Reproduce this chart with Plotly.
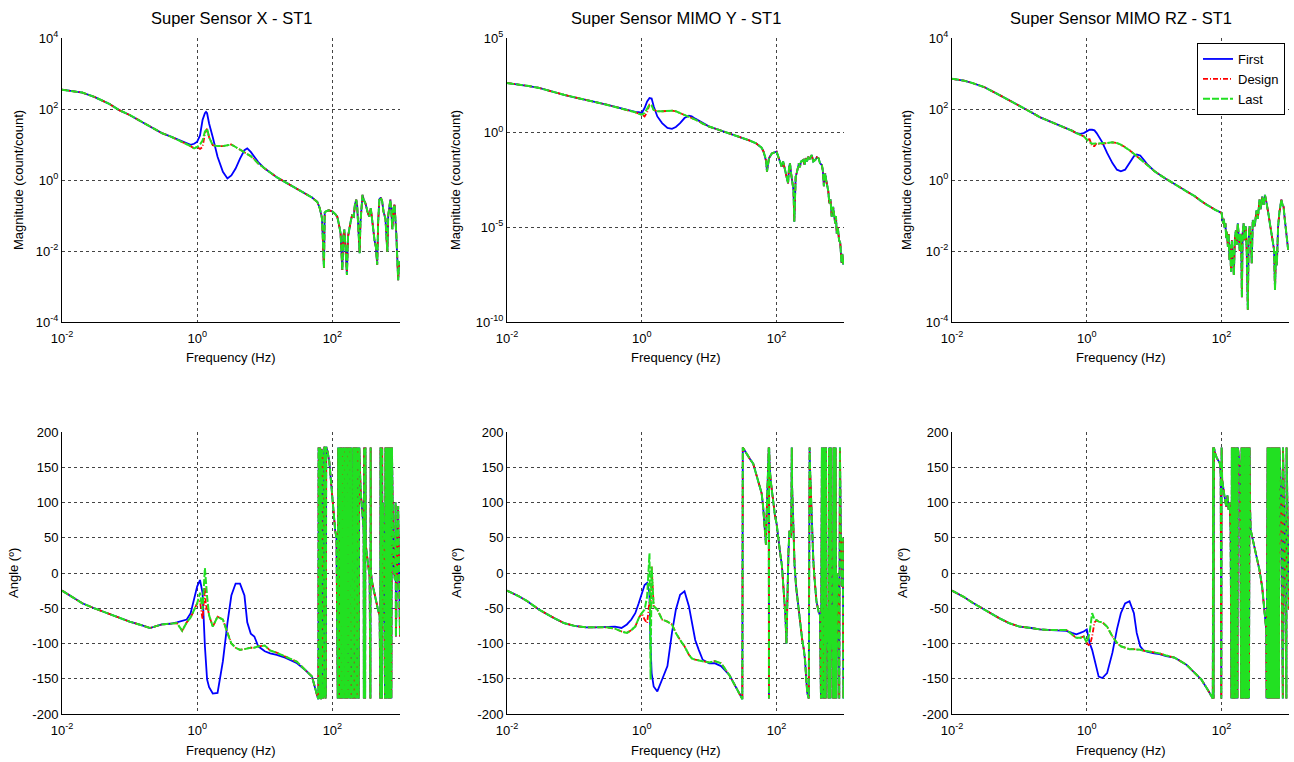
import plotly.graph_objects as go

# ---------------- DATA ----------------
# ---- Super Sensor X - ST1 ----
f_x = [0.01, 0.015, 0.02, 0.03, 0.05, 0.07, 0.1, 0.15, 0.2, 0.3, 0.4, 0.5, 0.6, 0.7, 0.8, 0.9, 1.0, 1.1, 1.2, 1.3,
       1.35, 1.4, 1.5, 1.7, 2.0, 2.4, 2.8, 3.2, 3.7, 4.3, 5.0, 5.5, 6.2, 7, 8, 10, 12, 15, 20, 30, 40, 50, 60]
mag_x_first = [350, 320, 290, 220, 140, 93, 68, 44, 32, 21, 17, 14, 12, 10.5, 9.8, 10.5, 12, 18, 49, 76,
               83, 76, 39, 16, 4.5, 1.7, 1.1, 1.35, 2.1, 4, 6.9, 7.8, 6.2, 4.5, 3.2, 2.1, 1.6, 1.2, 0.87, 0.56,
               0.41, 0.32, 0.24]
mag_x_design = [350, 320, 290, 220, 140, 93, 68, 44, 32, 21, 17, 14, 12, 10, 9, 7.8, 8.5, 7.5, 8.5, 20,
                26, 28, 16, 9.5, 9, 9, 9.5, 10, 8.5, 7.2, 6.2, 5.6, 4.7, 3.8, 2.9, 2.1, 1.6, 1.2, 0.87, 0.56,
                0.41, 0.32, 0.24]
mag_x_last = [350, 320, 290, 220, 140, 93, 68, 44, 32, 21, 17, 14, 12, 10, 9, 7.8, 8.5, 10, 13, 23,
              26, 28, 16, 9.5, 9, 9, 9.5, 10, 8.5, 7.2, 6.2, 5.6, 4.7, 3.8, 2.9, 2.1, 1.6, 1.2, 0.87, 0.56,
              0.41, 0.32, 0.24]
ph_x_first = [-25, -35, -43, -50, -58, -64, -69, -74, -78, -73, -72, -70, -68, -66, -57, -38, -19, -10, -28, -104,
              -130, -151, -162, -171, -170, -125, -71, -32, -15, -15, -32, -70, -86, -90, -104, -111, -114, -116,
              -120, -128, -138, -147, -175]
ph_x_design = [-25, -35, -43, -50, -58, -64, -69, -74, -78, -73, -72, -71, -82, -70, -63, -52, -43, -40, -66, -20,
               -52, -45, -60, -76, -62, -66, -85, -100, -106, -109, -108, -107, -106, -106, -104, -103, -110, -113,
               -118, -126, -138, -147, -175]
ph_x_last = [-25, -35, -43, -50, -58, -64, -69, -74, -78, -73, -72, -71, -82, -70, -63, -52, -43, -28, -52, 7,
             -20, -33, -60, -76, -62, -66, -85, -100, -106, -109, -108, -107, -106, -106, -104, -103, -110, -113,
             -118, -126, -138, -147, -175]
f_x_hi_mag = [65, 68, 70, 72, 75, 77, 80, 88, 100, 110, 118, 125, 132, 136, 140, 145, 150, 156, 160, 164,
              170, 178, 185, 195, 207, 215, 225, 232, 240, 247, 253, 260, 270, 279, 290, 308, 330, 350, 370, 396,
              420, 440, 460, 475, 495, 520, 545, 570, 610, 630, 650, 670, 700, 720, 745, 770, 800, 830, 880, 910,
              940, 970, 1000]
mag_x_hi = [0.16, 0.11, 0.085, 0.025, 0.0033, 0.12, 0.13, 0.14, 0.13, 0.11, 0.093, 0.056, 0.032, 0.01, 0.0029,
            0.025, 0.04, 0.013, 0.005, 0.0021, 0.025, 0.049, 0.063, 0.1, 0.093, 0.2, 0.28, 0.2, 0.05, 0.016,
            0.0087, 0.063, 0.25, 0.38, 0.28, 0.22, 0.13, 0.093, 0.16, 0.04, 0.02, 0.013, 0.0041, 0.063, 0.28,
            0.32, 0.25, 0.13, 0.08, 0.025, 0.0095, 0.1, 0.25, 0.28, 0.13, 0.041, 0.16, 0.2, 0.032, 0.0063,
            0.0015, 0.005, 0.0046]
f_x_hi_ph = [62, 62.5, 64, 65, 65.5, 67, 68, 69, 71, 72.5, 73.5, 75, 76, 78, 79, 80, 81, 85, 90, 95,
             100, 105, 110, 115, 120, 122, 125, 128, 130, 133, 135, 138, 141, 144, 147, 150, 153, 156, 159, 162,
             165, 168, 172, 176, 180, 183, 187, 190, 195, 200, 205, 210, 215, 220, 225, 232, 238, 245, 250, 256,
             262, 270, 280, 290, 292, 295, 298, 305, 308, 312, 325, 340, 355, 365, 368, 372, 390, 410, 430, 455,
             480, 500, 510, 515, 520, 525, 532, 540, 545, 552, 560, 575, 600, 610, 620, 630, 640, 650, 660, 670,
             680, 690, 700, 710, 720, 730, 745, 760, 780, 800, 840, 860, 870, 900, 940, 1000]
ph_x_hi = [-179, 178, 165, -178, 178, 170, -179, 176, 172, -178, -150, -176, 179, 175, -178, -172, 179, 172, 158, 130,
           100, 80, 60, 50, -178, 178, 40, -178, 178, -178, 178, -178, 178, -178, 178, -178, 178, -178, 178, -178,
           178, -178, 178, 100, -178, 178, -178, 178, -40, -178, 178, -178, 178, -178, 178, -178, 178, -178, 178, 130,
           115, 100, 80, 60, -178, 178, 50, -178, 178, 40, 25, 10, -5, -178, 178, 0, -15, -25, -35, -45,
           -55, -60, -178, 178, -178, 178, -60, -178, 178, -70, 100, 40, -178, 178, -178, 178, -178, 178, -178, 178,
           -178, 178, -178, 178, -178, 178, -178, 178, 20, 10, -10, 100, -90, -20, 95, -90]

# ---- Super Sensor MIMO Y - ST1 ----
f_y = [0.01, 0.015, 0.02, 0.03, 0.05, 0.07, 0.1, 0.15, 0.2, 0.3, 0.4, 0.5, 0.6, 0.7, 0.8, 0.9, 1.0, 1.1, 1.2, 1.3,
       1.35, 1.4, 1.5, 1.7, 2.0, 2.4, 2.8, 3.2, 3.7, 4.3, 5.0, 5.5, 6.2, 7, 8, 10, 12, 15, 20, 30]
mag_y_first = [420, 350, 300, 230, 135, 100, 74, 51, 42, 30, 23, 19.5, 17, 14.5, 12.5, 12, 11, 20, 45, 67,
               65, 63, 25, 7.2, 3.2, 1.8, 1.6, 2.0, 3.2, 5.9, 7.9, 7.2, 5.5, 4.2, 3.2, 2.1, 1.7, 1.3, 0.95, 0.55]
mag_y_design = [420, 350, 300, 230, 135, 100, 74, 51, 42, 30, 23, 19.5, 17, 14.5, 12, 10, 9, 7.2, 12, 30,
                28, 27, 16, 13.5, 13.5, 14.5, 14.5, 13.5, 11, 9, 7.2, 5.9, 4.9, 4, 3, 2.1, 1.7, 1.3, 0.95, 0.55]
mag_y_last = [420, 350, 300, 230, 135, 100, 74, 51, 42, 30, 23, 19.5, 17, 14.5, 12, 10, 9, 11, 20, 30,
              28, 27, 16, 13.5, 13.5, 14.5, 14.5, 13.5, 11, 9, 7.2, 5.9, 4.9, 4, 3, 2.1, 1.7, 1.3, 0.95, 0.55]
ph_y_first = [-25, -33, -40, -52, -64, -71, -75, -77, -77, -77, -76, -78, -73, -66, -57, -43, -28, -17, -14, -28,
              -104, -142, -161, -168, -151, -132, -85, -52, -31, -26, -47, -71, -95, -109, -123, -128, -128, -132,
              -145, -176]
ph_y_design = [-25, -33, -40, -52, -64, -71, -75, -77, -77, -77, -79, -83, -85, -81, -76, -64, -57, -66, -71, -40,
               -60, 9, -47, -52, -66, -69, -73, -85, -95, -104, -116, -121, -123, -124, -125, -127, -125, -128,
               -145, -176]
ph_y_last = [-25, -33, -40, -52, -64, -71, -75, -77, -77, -77, -79, -83, -85, -81, -76, -64, -57, -52, -33, 28,
             -151, 9, -47, -52, -66, -69, -73, -85, -95, -104, -116, -121, -123, -124, -125, -127, -125, -128,
             -145, -176]
f_y_hi_mag = [40, 50, 60, 64, 68, 70, 72, 74, 77, 81, 85, 92, 100, 106, 112, 119, 125, 132, 142, 148,
              153, 158, 165, 172, 178, 183, 188, 192, 200, 208, 214, 222, 230, 248, 260, 270, 282, 295, 310, 332,
              350, 375, 395, 420, 440, 470, 485, 503, 515, 525, 545, 565, 585, 605, 630, 657, 690, 740, 760, 780,
              810, 845, 880, 920, 945, 970, 1000]
mag_y_hi = [0.38, 0.27, 0.16, 0.1, 0.05, 0.03, 0.0087, 0.02, 0.044, 0.06, 0.08, 0.09, 0.1, 0.054, 0.03, 0.016,
            0.03, 0.012, 0.0047, 0.0021, 0.015, 0.024, 0.006, 0.0015, 0.00093, 2e-5, 0.0008, 0.0047, 0.008, 0.013,
            0.024, 0.015, 0.03, 0.036, 0.02, 0.045, 0.03, 0.054, 0.04, 0.066, 0.03, 0.036, 0.05, 0.044, 0.025,
            0.019, 0.01, 0.0015, 0.004, 0.007, 0.003, 0.0015, 0.0008, 0.00019, 0.0003, 3.6e-5, 1.2e-4, 1.6e-5,
            4e-5, 4.8e-6, 1e-5, 2.1e-6, 1.5e-6, 1.3e-7, 4e-7, 1.1e-7, 2e-7]
f_y_hi_ph = [31, 31.5, 35, 40, 45, 50, 55, 60, 63, 66, 68, 69.5, 71, 73, 75, 76.5, 77, 77.5, 79, 82,
             85, 90, 95, 100, 105, 113, 120, 125, 130, 135, 140, 145, 150, 155, 160, 165, 168, 170, 173, 178,
             185, 195, 205, 215, 225, 240, 255, 265, 275, 285, 300, 303, 306, 309, 313, 320, 330, 340, 350, 360,
             375, 390, 420, 440, 455, 460, 465, 470, 475, 480, 486, 492, 498, 504, 510, 516, 522, 528, 535, 542,
             550, 570, 590, 600, 610, 620, 630, 640, 655, 670, 690, 700, 710, 720, 735, 750, 770, 790, 820, 850,
             870, 900, 940, 960, 980, 1000]
ph_y_hi = [-179, 178, 170, 162, 155, 140, 128, 113, 95, 70, 45, 40, 80, 110, 150, 178, -178, 178, 150, 130,
           118, 95, 80, 70, 50, 28, 10, -10, -30, -60, -100, -20, 30, 60, 50, 57, 178, 120, 100, 40,
           10, -20, -40, -60, -75, -95, -110, -125, -150, -170, -178, 178, -178, 178, 150, 120, 90, 50, 20, 0,
           -20, -40, -55, -60, -178, 178, -178, 178, -178, 178, -178, 178, -178, 178, -178, 178, -178, 178, -178, 178,
           -100, -50, -178, 178, -178, 178, -178, 178, -100, -50, -178, 178, -178, 178, -178, 178, -178, 0, -30, -178,
           178, 50, -20, 50, -178, -150]

# ---- Super Sensor MIMO RZ - ST1 ----
f_rz = [0.01, 0.015, 0.02, 0.03, 0.05, 0.07, 0.1, 0.15, 0.2, 0.3, 0.4, 0.5, 0.6, 0.7, 0.8, 0.9, 1.0, 1.1, 1.2, 1.3,
        1.4, 1.5, 1.7, 2.0, 2.4, 2.8, 3.2, 3.7, 4.3, 5.0, 5.5, 6.2, 7, 8, 10, 12, 15, 20, 30, 40, 50, 60, 70]
mag_rz_first = [710, 630, 540, 415, 250, 180, 122, 81, 59, 43, 34, 28, 24.5, 21, 20, 21, 23.5, 26, 26, 25,
                21, 17, 11.5, 5.8, 3, 1.95, 1.75, 1.95, 3, 4.7, 5.2, 4.9, 3.7, 2.7, 1.8, 1.4, 1.07, 0.77, 0.48, 0.35,
                0.25, 0.2, 0.17]
mag_rz_design = [710, 630, 540, 415, 250, 180, 122, 81, 59, 43, 34, 28, 24.5, 21, 19, 17, 13.8, 14, 9, 9,
                 11, 10.5, 10.5, 11, 11.5, 11, 9.9, 8.5, 6.9, 5.5, 4.7, 3.9, 3.2, 2.6, 1.8, 1.4, 1.07, 0.77, 0.48,
                 0.35, 0.25, 0.2, 0.17]
mag_rz_last = [710, 630, 540, 415, 250, 180, 122, 81, 59, 43, 34, 28, 24.5, 21, 19, 17, 13.8, 11.5, 10.5, 10.5,
               11, 10.5, 10.5, 11, 11.5, 11, 9.9, 8.5, 6.9, 5.5, 4.7, 3.9, 3.2, 2.6, 1.8, 1.4, 1.07, 0.77, 0.48,
               0.35, 0.25, 0.2, 0.17]
ph_rz_first = [-25, -34, -42, -52, -64, -71, -76, -78, -80, -81, -81, -82, -85, -87, -85, -83, -80, -99, -109, -123,
               -137, -147, -149, -142, -113, -80, -57, -43, -40, -57, -85, -104, -110, -112, -114, -115, -118, -120,
               -130, -142, -151, -163, -173]
ph_rz_design = [-25, -34, -42, -52, -64, -71, -76, -78, -80, -81, -81, -81, -87, -92, -92, -90, -99, -104, -90, -70,
                -67, -69, -70, -76, -90, -99, -104, -106, -108, -108, -108, -109, -110, -111, -113, -114, -117, -120,
                -130, -142, -151, -163, -173]
ph_rz_last = [-25, -34, -42, -52, -64, -71, -76, -78, -80, -81, -81, -81, -87, -92, -92, -90, -99, -85, -57, -66,
              -67, -69, -70, -76, -90, -99, -104, -106, -108, -108, -108, -109, -110, -111, -113, -114, -117, -120,
              -130, -142, -151, -163, -173]
f_rz_hi_mag = [80, 100, 105, 108, 111, 114, 117, 120, 124, 127, 131, 134, 138, 142, 147, 152, 157, 163, 168, 174,
               180, 186, 190, 195, 200, 205, 212, 220, 228, 236, 245, 252, 260, 270, 280, 290, 310, 330, 345, 365,
               380, 400, 420, 440, 460, 475, 500, 520, 540, 570, 600, 620, 640, 660, 690, 720, 745, 770, 800, 830,
               865, 900, 935, 970, 1000]
mag_rz_hi = [0.145, 0.118, 0.06, 0.08, 0.044, 0.06, 0.023, 0.035, 0.013, 0.03, 0.0056, 0.015, 0.0026, 0.02, 0.008,
             0.0021, 0.02, 0.039, 0.015, 0.06, 0.025, 0.01, 0.03, 0.025, 0.0005, 0.03, 0.06, 0.02, 0.05, 0.01,
             0.00022, 0.02, 0.05, 0.03, 0.0045, 0.074, 0.05, 0.14, 0.08, 0.28, 0.15, 0.34, 0.2, 0.38, 0.25, 0.19,
             0.1, 0.06, 0.039, 0.02, 0.011, 0.0008, 0.01, 0.004, 0.05, 0.12, 0.2, 0.28, 0.2, 0.18, 0.08, 0.04,
             0.02, 0.011, 0.013]
f_rz_hi_ph = [74, 75, 76, 77, 80, 85, 90, 94, 97, 99, 100, 102, 108, 113, 117, 122, 127, 132, 136, 140,
              142, 144, 146, 148, 150, 152, 154, 156, 158, 160, 162, 164, 166, 168, 170, 172, 174, 176, 180, 188,
              195, 198, 201, 204, 207, 210, 214, 218, 222, 226, 230, 234, 238, 242, 246, 250, 255, 260, 265, 270,
              300, 330, 365, 400, 430, 460, 465, 470, 476, 482, 488, 494, 500, 507, 514, 521, 528, 535, 542, 550,
              558, 566, 574, 582, 590, 600, 610, 620, 630, 640, 650, 660, 670, 680, 690, 700, 710, 720, 760, 810,
              815, 860, 915, 920, 960, 1000]
ph_rz_hi = [-178, 178, -178, 178, 170, 163, 158, 156, 140, -178, 178, 132, 115, 100, 94, 110, 90, 100, 60, -178,
            178, -178, 178, -178, 178, -178, 178, -178, 178, -178, 178, -178, 178, -178, 178, -178, 178, 175, 165, 150,
            -178, 178, -178, 178, -178, 178, -178, 178, -178, 178, -178, 178, -178, 178, -178, 178, -178, 178, 90, 61,
            40, 20, 4, -20, -50, -81, -178, 178, -178, 178, -178, 178, -178, 178, -178, 178, -178, 178, -178, 178,
            -178, 178, -178, 178, -178, 178, -178, 178, -178, 178, -178, 178, -178, 178, -178, 178, -178, 178, 120, -178,
            178, 60, -178, 178, 20, -52]

titles = ["Super Sensor X - ST1", "Super Sensor MIMO Y - ST1", "Super Sensor MIMO RZ - ST1"]
series_names = ["First", "Design", "Last"]

x_tickvals = [0.01, 1, 100]
x_ticktext = ["10<sup>-2</sup>", "10<sup>0</sup>", "10<sup>2</sup>"]
mag_tickvals_a = [1e-4, 1e-2, 1, 1e2, 1e4]
mag_ticktext_a = ["10<sup>-4</sup>", "10<sup>-2</sup>", "10<sup>0</sup>", "10<sup>2</sup>", "10<sup>4</sup>"]
mag_tickvals_b = [1e-10, 1e-5, 1, 1e5]
mag_ticktext_b = ["10<sup>-10</sup>", "10<sup>-5</sup>", "10<sup>0</sup>", "10<sup>5</sup>"]
ang_tickvals = [-200, -150, -100, -50, 0, 50, 100, 150, 200]
ang_ticktext = ["-200", "-150", "-100", "-50", "0", "50", "100", "150", "200"]

panels = [
    dict(f=f_x, mag=[mag_x_first, mag_x_design, mag_x_last], ph=[ph_x_first, ph_x_design, ph_x_last],
         fhm=f_x_hi_mag, mhi=mag_x_hi, fhp=f_x_hi_ph, phi=ph_x_hi),
    dict(f=f_y, mag=[mag_y_first, mag_y_design, mag_y_last], ph=[ph_y_first, ph_y_design, ph_y_last],
         fhm=f_y_hi_mag, mhi=mag_y_hi, fhp=f_y_hi_ph, phi=ph_y_hi),
    dict(f=f_rz, mag=[mag_rz_first, mag_rz_design, mag_rz_last], ph=[ph_rz_first, ph_rz_design, ph_rz_last],
         fhm=f_rz_hi_mag, mhi=mag_rz_hi, fhp=f_rz_hi_ph, phi=ph_rz_hi),
]
for p in panels:
    for arr in p["mag"] + p["ph"]:
        assert len(arr) == len(p["f"]), (len(arr), len(p["f"]))
    assert len(p["fhm"]) == len(p["mhi"]), (len(p["fhm"]), len(p["mhi"]))
    assert len(p["fhp"]) == len(p["phi"]), (len(p["fhp"]), len(p["phi"]))

# ---------------- STYLE / LAYOUT ----------------
W, H = 1294, 762
FONT = "Liberation Sans, Arial, sans-serif"
line_styles = [
    dict(color="#0000FF", width=1.8, dash="solid"),
    dict(color="#FF0000", width=1.8, dash="5px,2px,1px,2px"),
    dict(color="#22E022", width=2.0, dash="7px,2px"),
]
col_px = [(62, 400), (507, 844), (952, 1289)]
top_px = (38, 322)
bot_px = (432, 714)


def xd(a, b):
    return [a / W, b / W]


def yd(t, b):
    return [1 - b / H, 1 - t / H]


fig = go.Figure()
for s in range(3):
    for c, p in enumerate(panels):
        nt, nb = c + 1, c + 4
        fig.add_trace(go.Scatter(
            x=p["f"] + p["fhm"], y=p["mag"][s] + p["mhi"], mode="lines",
            line=line_styles[s], name=series_names[s], legendgroup=series_names[s],
            showlegend=(c == 2), xaxis=f"x{nt}", yaxis=f"y{nt}"))
        fig.add_trace(go.Scatter(
            x=p["f"] + p["fhp"], y=p["ph"][s] + p["phi"], mode="lines",
            line=line_styles[s], name=series_names[s], legendgroup=series_names[s],
            showlegend=False, xaxis=f"x{nb}", yaxis=f"y{nb}"))

axis_common = dict(showgrid=True, gridcolor="#444444", griddash="dot", gridwidth=1,
                   showline=True, linecolor="black", linewidth=1, ticks="", zeroline=False,
                   tickfont=dict(family=FONT, size=13, color="black"), automargin=False)

layout = dict(width=W, height=H, margin=dict(l=0, r=0, t=0, b=0),
              paper_bgcolor="white", plot_bgcolor="white",
              font=dict(family=FONT, color="black"),
              legend=dict(x=1285 / W, y=1 - 43 / H, xanchor="right", yanchor="top",
                          bordercolor="black", borderwidth=1, bgcolor="white",
                          font=dict(family=FONT, size=13, color="black"),
                          tracegroupgap=0, itemwidth=30))
for c in range(3):
    a, b = col_px[c]
    for row, n in ((0, c + 1), (1, c + 4)):
        sfx = "" if n == 1 else str(n)
        layout["xaxis" + sfx] = dict(axis_common, type="log", range=[-2, 3], domain=xd(a, b),
                                     tickvals=x_tickvals, ticktext=x_ticktext, anchor=f"y{n}",
                                     ticklabelstandoff=4)
        if row == 0:
            if c == 1:
                yr, tv, tt = [-10, 5], mag_tickvals_b, mag_ticktext_b
            else:
                yr, tv, tt = [-4, 4], mag_tickvals_a, mag_ticktext_a
            layout["yaxis" + sfx] = dict(axis_common, type="log", range=yr, domain=yd(*top_px),
                                         tickvals=tv, ticktext=tt, anchor=f"x{n}")
        else:
            layout["yaxis" + sfx] = dict(axis_common, range=[-200, 200], domain=yd(*bot_px),
                                         tickvals=ang_tickvals, ticktext=ang_ticktext, anchor=f"x{n}")

fig.update_layout(**layout)

ann = []
ylab_top_x = [18, 455, 906]
ylab_bot_x = [13, 456, 902]
for c in range(3):
    a, b = col_px[c]
    cx = (a + b) / 2 / W
    ann.append(dict(text=titles[c], x=cx, y=1 - 18 / H, xref="paper", yref="paper", showarrow=False,
                    xanchor="center", yanchor="middle", font=dict(family=FONT, size=16.5, color="black")))
    ann.append(dict(text="Frequency (Hz)", x=cx, y=1 - 357 / H, xref="paper", yref="paper", showarrow=False,
                    xanchor="center", yanchor="middle", font=dict(family=FONT, size=13, color="black")))
    ann.append(dict(text="Frequency (Hz)", x=cx, y=1 - 750 / H, xref="paper", yref="paper", showarrow=False,
                    xanchor="center", yanchor="middle", font=dict(family=FONT, size=13, color="black")))
    ann.append(dict(text="Magnitude (count/count)", x=ylab_top_x[c] / W, y=1 - 180 / H, xref="paper",
                    yref="paper", showarrow=False, textangle=-90, xanchor="center", yanchor="middle",
                    font=dict(family=FONT, size=13, color="black")))
    ann.append(dict(text="Angle (º)", x=ylab_bot_x[c] / W, y=1 - 573 / H, xref="paper",
                    yref="paper", showarrow=False, textangle=-90, xanchor="center", yanchor="middle",
                    font=dict(family=FONT, size=13, color="black")))
fig.update_layout(annotations=ann)

fig.write_html("out.html")
